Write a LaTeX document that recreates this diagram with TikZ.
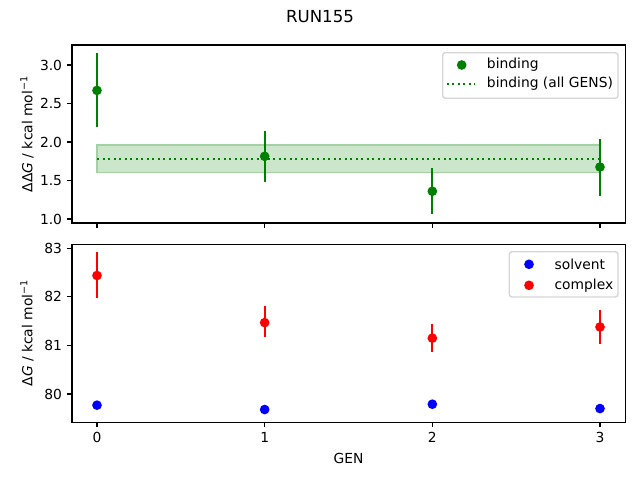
\documentclass[tikz,border=0pt]{standalone}
\usepackage{fontspec}
\setmainfont{DejaVu Sans}
\definecolor{mplgreen}{HTML}{008000}
\definecolor{mplblue}{HTML}{0000FF}
\definecolor{mplred}{HTML}{FF0000}
\definecolor{bandfill}{RGB}{204,230,204}
\definecolor{bandedge}{RGB}{163,209,163}
\definecolor{legedge}{RGB}{214,214,214}

\newcommand{\gx}[1]{97+#1*167.667}
\newcommand{\tpy}[1]{219-(#1-1)*77}
\newcommand{\btmy}[1]{394-(#1-80)*48.57}

\tikzstyle{spine}=[line width=0.8pt, black]
\tikzstyle{tick}=[line width=0.8pt, black]
\tikzstyle{ticklabel}=[inner sep=0pt, font=\fontsize{10}{12}\selectfont]
\tikzstyle{dot}=[circle, inner sep=0pt, minimum size=7pt, draw=none]
\tikzstyle{bar}=[line width=1.5pt]
\tikzstyle{legendbox}=[draw=legedge, line width=1pt, fill=white, fill opacity=0.8, rounded corners=2pt]
\tikzstyle{legendtext}=[anchor=west, inner sep=0pt, font=\fontsize{10}{12}\selectfont]

\begin{document}
\begin{tikzpicture}[x=0.01in, y=-0.01in]
    \useasboundingbox[fill=white] (0,0) rectangle (640,480);

    % title
    \node[inner sep=0pt, font=\fontsize{12}{14}\selectfont] (title) at (320,17) {RUN155};

    % top panel: binding
    \coordinate (bandl) at ({\gx{0}},{\tpy{1.961}});
    \coordinate (bandr) at ({\gx{3}},{\tpy{1.601}});
    \path[fill=bandfill, draw=bandedge, line width=1pt] (bandl) rectangle (bandr);
    \coordinate (meanl) at ({\gx{0}},{\tpy{1.783}});
    \coordinate (meanr) at ({\gx{3}},{\tpy{1.783}});
    \path[draw, mplgreen, line width=1.5pt, dash pattern=on 1.5pt off 2.475pt] (meanl) -- (meanr);
    \foreach \g/\v/\lo/\hi in {0/2.67/2.20/3.15, 1/1.814/1.485/2.143, 2/1.36/1.061/1.662, 3/1.675/1.30/2.04} {
        \coordinate (bhi\g) at ({\gx{\g}},{\tpy{\hi}});
        \coordinate (blo\g) at ({\gx{\g}},{\tpy{\lo}});
        \path[draw, bar, mplgreen] (bhi\g) -- (blo\g);
        \node[dot, fill=mplgreen] (b\g) at ({\gx{\g}},{\tpy{\v}}) {};
    }
    \draw[spine] (72,45) rectangle (625.3,223);
    \foreach \v in {1.0,1.5,2.0,2.5,3.0} {
        \draw[tick] (72,{\tpy{\v}}) -- ++(-4.86,0);
        \node[ticklabel, anchor=east] at (62.3,{\tpy{\v}}) {\v};
    }
    \foreach \g in {0,1,2,3} {
        \draw[tick] ({\gx{\g}},223) -- ++(0,4.86);
    }
    \node[rotate=90, inner sep=0pt, font=\fontsize{10}{12}\selectfont] (ylabtop) at (27,134) {ΔΔ\textit{G} / kcal mol\textsuperscript{−1}};

    % top legend
    \draw[legendbox] (442.7,52.7) rectangle (618,98.3);
    \node[dot, fill=mplgreen] (legbind) at (461.7,65) {};
    \coordinate (legmeanl) at (446.7,84);
    \coordinate (legmeanr) at (475,84);
    \path[draw, mplgreen, line width=1.5pt, dash pattern=on 1.5pt off 2.475pt] (legmeanl) -- (legmeanr);
    \node[legendtext] (legbindtext) at (486.7,65) {binding};
    \node[legendtext] (legmeantext) at (486.7,84) {binding (all GENS)};

    % bottom panel: solvent and complex
    \foreach \g/\v/\lo/\hi in {0/82.44/81.98/82.92, 1/81.47/81.18/81.81, 2/81.15/80.86/81.44, 3/81.38/81.02/81.73} {
        \coordinate (chi\g) at ({\gx{\g}},{\btmy{\hi}});
        \coordinate (clo\g) at ({\gx{\g}},{\btmy{\lo}});
        \path[draw, bar, mplred] (chi\g) -- (clo\g);
        \node[dot, fill=mplred] (c\g) at ({\gx{\g}},{\btmy{\v}}) {};
    }
    \foreach \g/\v in {0/79.77, 1/79.68, 2/79.79, 3/79.70} {
        \node[dot, fill=mplblue] (s\g) at ({\gx{\g}},{\btmy{\v}}) {};
    }
    \draw[spine] (72,244.3) rectangle (625.3,422.3);
    \foreach \v in {80,81,82,83} {
        \draw[tick] (72,{\btmy{\v}}) -- ++(-4.86,0);
        \node[ticklabel, anchor=east] at (62.3,{\btmy{\v}}) {\v};
    }
    \foreach \g in {0,1,2,3} {
        \draw[tick] ({\gx{\g}},422.3) -- ++(0,4.86);
        \node[ticklabel, anchor=north] at ({\gx{\g}},432) {\g};
    }
    \node[rotate=90, inner sep=0pt, font=\fontsize{10}{12}\selectfont] (ylabbtm) at (27,333) {Δ\textit{G} / kcal mol\textsuperscript{−1}};
    \node[inner sep=0pt, font=\fontsize{10}{12}\selectfont] (xlab) at (348.6,458) {GEN};

    % bottom legend
    \draw[legendbox] (509.3,251.7) rectangle (618,297);
    \node[dot, fill=mplblue] (legsolv) at (529,264.3) {};
    \node[dot, fill=mplred] (legcplx) at (529,285.3) {};
    \node[legendtext] (legsolvtext) at (554.3,264.3) {solvent};
    \node[legendtext] (legcplxtext) at (554.3,285.3) {complex};
\end{tikzpicture}
\end{document}
